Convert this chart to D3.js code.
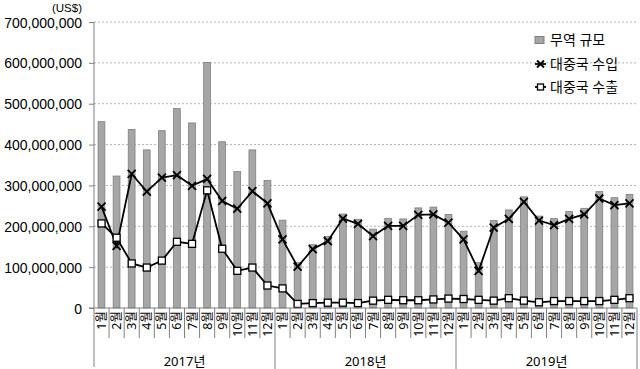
<!DOCTYPE html>
<html>
<head>
<meta charset="utf-8">
<script src="https://cdn.jsdelivr.net/npm/d3@7"></script>
<style>
  body { margin: 0; background: #fff; }
  text { font-family: "Noto Sans", "Noto Sans CJK KR", sans-serif; fill: #000; }
  .num { font-family: "Liberation Sans", "Noto Sans CJK KR", sans-serif; }
</style>
</head>
<body>
<div id="body"></div>
<script>
// values in US$ millions
var years = ["2017", "2018", "2019"];
var months = ["1", "2", "3", "4", "5", "6", "7", "8", "9", "10", "11", "12"];
var trade = [
  456, 323, 437, 387, 434, 488, 453, 601, 407, 334, 387, 312,
  215, 111, 155, 175, 230, 217, 193, 219, 218, 245, 247, 229,
  188, 111, 214, 240, 272, 225, 219, 236, 244, 285, 270, 278
];
var imports = [
  248, 152, 328, 285, 319, 325, 299, 316, 262, 243, 286, 256,
  168, 101, 144, 164, 219, 206, 176, 201, 201, 228, 229, 209,
  168, 91, 197, 218, 260, 214, 203, 218, 229, 268, 252, 256
];
var exports = [
  207, 172, 109, 99, 116, 162, 157, 288, 145, 91, 99, 55,
  48, 10, 12, 13, 13, 12, 18, 20, 19, 19, 21, 23,
  22, 20, 18, 24, 18, 14, 17, 17, 17, 17, 20, 24
];
var yTicks = [0, 100, 200, 300, 400, 500, 600, 700];
var legendLabels = ["무역 규모", "대중국 수입", "대중국 수출"];

var margin = {top: 22, right: 3, bottom: 61, left: 94},
  width = 640 - margin.left - margin.right,
  height = 369 - margin.top - margin.bottom;

var data = [];
years.forEach(function(y) {
  months.forEach(function(m) {
    var i = data.length;
    data.push({key: y + "-" + m, year: y, month: m, trade: trade[i] * 1e6, imp: imports[i] * 1e6, exp: exports[i] * 1e6});
  });
});

var svg = d3.select("#body")
  .append("svg")
  .attr("width", 640)
  .attr("height", 369)
  .append("g")
  .attr("transform", "translate(" + margin.left + "," + margin.top + ")");

var x = d3.scaleBand()
  .domain(data.map(function(d) { return d.key; }))
  .range([0, width])
  .paddingInner(0.55)
  .paddingOuter(0.27);

var xStep = d3.scaleBand()
  .domain(data.map(function(d) { return d.key; }))
  .range([0, width]);

var y = d3.scaleLinear()
  .domain([0, 700e6])
  .range([height, 0]);

// gridlines
svg.append("g")
  .selectAll("line")
  .data(yTicks.slice(1))
  .enter().append("line")
  .attr("x1", 0)
  .attr("x2", width)
  .attr("y1", function(d) { return y(d * 1e6); })
  .attr("y2", function(d) { return y(d * 1e6); })
  .attr("stroke", "#b4b4b4")
  .attr("stroke-dasharray", "2,2");

// y axis
var leftAxis = d3.axisLeft(y)
  .tickValues(yTicks.map(function(d) { return d * 1e6; }))
  .tickSize(5)
  .tickPadding(7)
  .tickFormat(d3.format(","));

var yAxis = svg.append("g").call(leftAxis);
yAxis.select(".domain").attr("stroke", "#808080").attr("d", "M0," + height + "V0");
yAxis.selectAll(".tick line").attr("stroke", "#808080");
yAxis.selectAll("text")
  .attr("class", "num")
  .style("font-size", "14px")
  .attr("fill", "#000")
  .attr("dy", "0.36em");

svg.append("text")
  .attr("class", "num")
  .attr("x", -12)
  .attr("y", -10.5)
  .attr("text-anchor", "end")
  .style("font-size", "11.5px")
  .text("(US$)");

// bars
svg.append("g")
  .selectAll("rect")
  .data(data)
  .enter().append("rect")
  .attr("x", function(d) { return x(d.key); })
  .attr("width", x.bandwidth())
  .attr("y", function(d) { return y(d.trade); })
  .attr("height", function(d) { return height - y(d.trade); })
  .attr("fill", "#a6a6a6")
  .attr("stroke", "#7f7f7f")
  .attr("stroke-width", 0.8);

var cx = function(d) { return xStep(d.key) + xStep.bandwidth() / 2; };

var line = function(field) {
  return d3.line()
    .x(cx)
    .y(function(d) { return y(d[field]); });
};

svg.append("path")
  .datum(data)
  .attr("d", line("imp"))
  .attr("fill", "none")
  .attr("stroke", "#000")
  .attr("stroke-width", 1.8);

svg.append("path")
  .datum(data)
  .attr("d", line("exp"))
  .attr("fill", "none")
  .attr("stroke", "#000")
  .attr("stroke-width", 1.8);

// x markers
var crossPath = "M-4,-4L4,4M-4,4L4,-4";
svg.append("g")
  .selectAll("path")
  .data(data)
  .enter().append("path")
  .attr("transform", function(d) { return "translate(" + cx(d) + "," + y(d.imp) + ")"; })
  .attr("d", crossPath)
  .attr("stroke", "#000")
  .attr("stroke-width", 1.8);

// square markers
svg.append("g")
  .selectAll("rect")
  .data(data)
  .enter().append("rect")
  .attr("x", function(d) { return cx(d) - 3.5; })
  .attr("y", function(d) { return y(d.exp) - 3.5; })
  .attr("width", 7)
  .attr("height", 7)
  .attr("fill", "#fff")
  .attr("stroke", "#000")
  .attr("stroke-width", 1.3);

// x axis base line
svg.append("line")
  .attr("x1", -5)
  .attr("x2", width)
  .attr("y1", height)
  .attr("y2", height)
  .attr("stroke", "#808080");

// month separators
svg.append("g")
  .selectAll("line")
  .data(data)
  .enter().append("line")
  .attr("x1", function(d) { return xStep(d.key) + xStep.bandwidth(); })
  .attr("x2", function(d) { return xStep(d.key) + xStep.bandwidth(); })
  .attr("y1", height)
  .attr("y2", function(d) { return d.month === "12" ? 369 - margin.top : height + 30; })
  .attr("stroke", "#808080");

svg.append("line")
  .attr("x1", 0).attr("x2", 0)
  .attr("y1", height).attr("y2", 369 - margin.top - 2)
  .attr("stroke", "#808080");

// month labels
svg.append("g")
  .selectAll("text")
  .data(data)
  .enter().append("text")
  .attr("transform", function(d) { return "translate(" + (cx(d) + 4.5) + "," + (height + 3) + ") rotate(-90)"; })
  .attr("text-anchor", "end")
  .style("font-size", "12.5px")
  .text(function(d) { return d.month + "월"; });

// year labels
svg.append("g")
  .selectAll("text")
  .data(years)
  .enter().append("text")
  .attr("x", function(d) {
    var a = xStep(d + "-1"), b = xStep(d + "-12") + xStep.bandwidth();
    return (a + b) / 2;
  })
  .attr("y", height + 58)
  .attr("text-anchor", "middle")
  .style("font-size", "13px")
  .text(function(d) { return d + "년"; });

// legend
var legend = svg.append("g")
  .attr("transform", "translate(" + (535 - margin.left) + "," + (40 - margin.top) + ")");

legend.append("rect")
  .attr("x", 0).attr("y", -3.5)
  .attr("width", 9).attr("height", 7)
  .attr("fill", "#a6a6a6").attr("stroke", "#7f7f7f");

legend.append("line")
  .attr("x1", 0).attr("x2", 11).attr("y1", 24).attr("y2", 24)
  .attr("stroke", "#000").attr("stroke-width", 1.8);
legend.append("path")
  .attr("transform", "translate(5.5,24)")
  .attr("d", "M-3.5,-3.5L3.5,3.5M-3.5,3.5L3.5,-3.5")
  .attr("stroke", "#000").attr("stroke-width", 1.8);

legend.append("line")
  .attr("x1", 0).attr("x2", 11).attr("y1", 47).attr("y2", 47)
  .attr("stroke", "#000").attr("stroke-width", 1.8);
legend.append("rect")
  .attr("x", 2.5).attr("y", 44)
  .attr("width", 6).attr("height", 6)
  .attr("fill", "#fff").attr("stroke", "#000").attr("stroke-width", 1.3);

legend.selectAll("text.leg")
  .data(legendLabels)
  .enter().append("text")
  .attr("class", "leg")
  .attr("x", 15)
  .attr("y", function(d, i) { return i * 23.5; })
  .attr("dy", "0.36em")
  .style("font-size", "14px")
  .text(function(d) { return d; });
</script>
</body>
</html>
